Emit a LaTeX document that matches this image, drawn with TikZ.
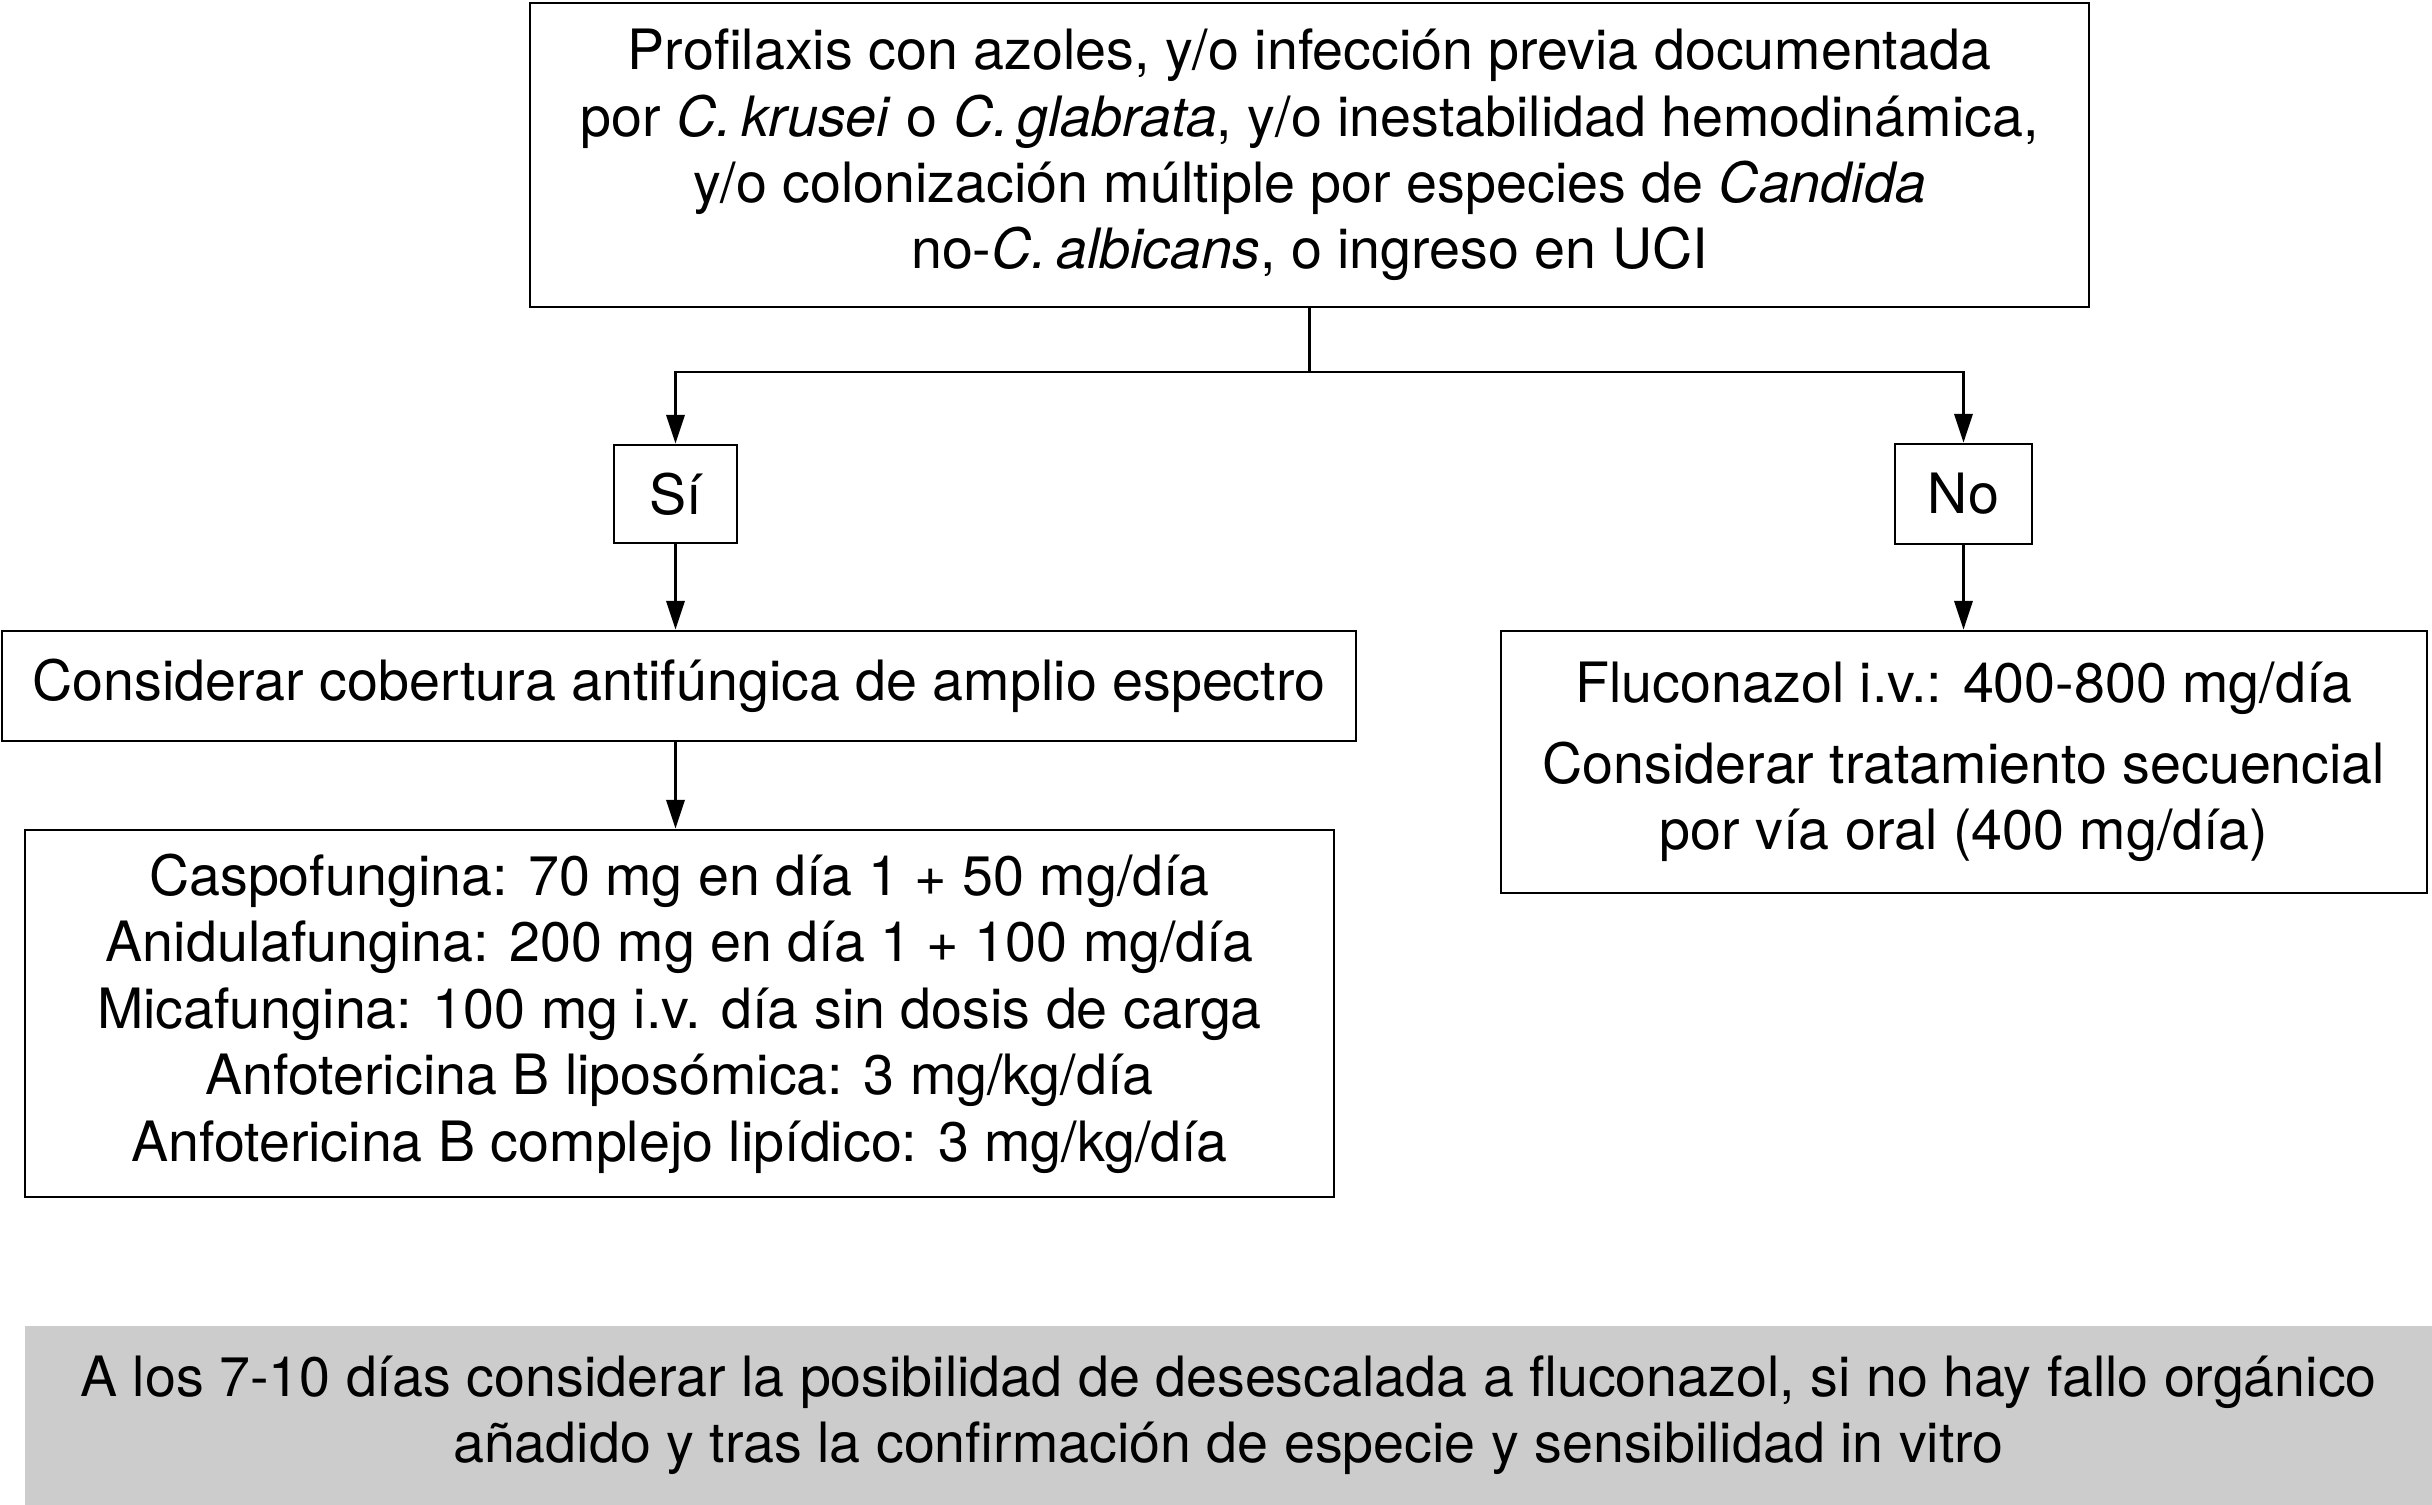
\documentclass[tikz,border=0pt]{standalone}
\usepackage{fontspec}
\setmainfont{TeX Gyre Heros}
\usetikzlibrary{arrows.meta}
\tikzset{
  box/.style={draw=black, line width=0.7pt, inner sep=0pt, align=center,
    font=\fontsize{13.9}{16.6}\selectfont},
  graybox/.style={fill=black!20, draw=none, inner sep=0pt, align=center,
    font=\fontsize{13.9}{16.6}\selectfont},
  arr/.style={line width=0.55pt, -{Triangle[length=7.2pt,width=4.6pt]}},
  plain/.style={line width=0.55pt}
}
\begin{document}
\begin{tikzpicture}[x=0.25pt,y=-0.25pt]
\useasboundingbox (0,0) rectangle (2432,1505);
\node[box, minimum width=1559*0.25pt, minimum height=304*0.25pt] (top) at (1309.5,155)
 {Profilaxis con azoles, y/o infección previa documentada\\
  por \textit{C.\,krusei} o \textit{C.\,glabrata}, y/o inestabilidad hemodinámica,\\
  y/o colonización múltiple por especies de \textit{Candida}\\
  no-\textit{C.\,albicans}, o ingreso en UCI};
\node[box, minimum width=123*0.25pt, minimum height=98*0.25pt] (si) at (675.5,494) {Sí};
\node[box, minimum width=137*0.25pt, minimum height=100*0.25pt] (no) at (1963.5,494) {No};
\node[box, minimum width=1354*0.25pt, minimum height=110*0.25pt] (cons) at (679,686)
 {Considerar cobertura antifúngica de amplio espectro};
\node[box, minimum width=1309*0.25pt, minimum height=367*0.25pt] (drugs) at (679.5,1013.5)
 {Caspofungina: 70 mg en día 1 + 50 mg/día\\
  Anidulafungina: 200 mg en día 1 + 100 mg/día\\
  Micafungina: 100 mg i.v. día sin dosis de carga\\
  Anfotericina B liposómica: 3 mg/kg/día\\
  Anfotericina B complejo lipídico: 3 mg/kg/día};
\node[box, minimum width=926*0.25pt, minimum height=262*0.25pt] (fluc) at (1964,762)
 {Fluconazol i.v.: 400-800 mg/día\\[3.5pt]
  Considerar tratamiento secuencial\\
  por vía oral (400 mg/día)};
\node[graybox, minimum width=2407*0.25pt, minimum height=179*0.25pt] (note) at (1228.5,1415.5)
 {A los 7-10 días considerar la posibilidad de desescalada a fluconazol, si no hay fallo orgánico\\
  añadido y tras la confirmación de especie y sensibilidad in vitro};
\coordinate (j) at (1309.5,372);
\draw[plain] (top.south) -- (j);
\draw[arr] (j) -| (si.north);
\draw[arr] (j) -| (no.north);
\draw[arr] (si.south) -- (si.south |- cons.north);
\draw[arr] (si.south |- cons.south) -- (si.south |- drugs.north);
\draw[arr] (no.south) -- (no.south |- fluc.north);
\end{tikzpicture}
\end{document}
